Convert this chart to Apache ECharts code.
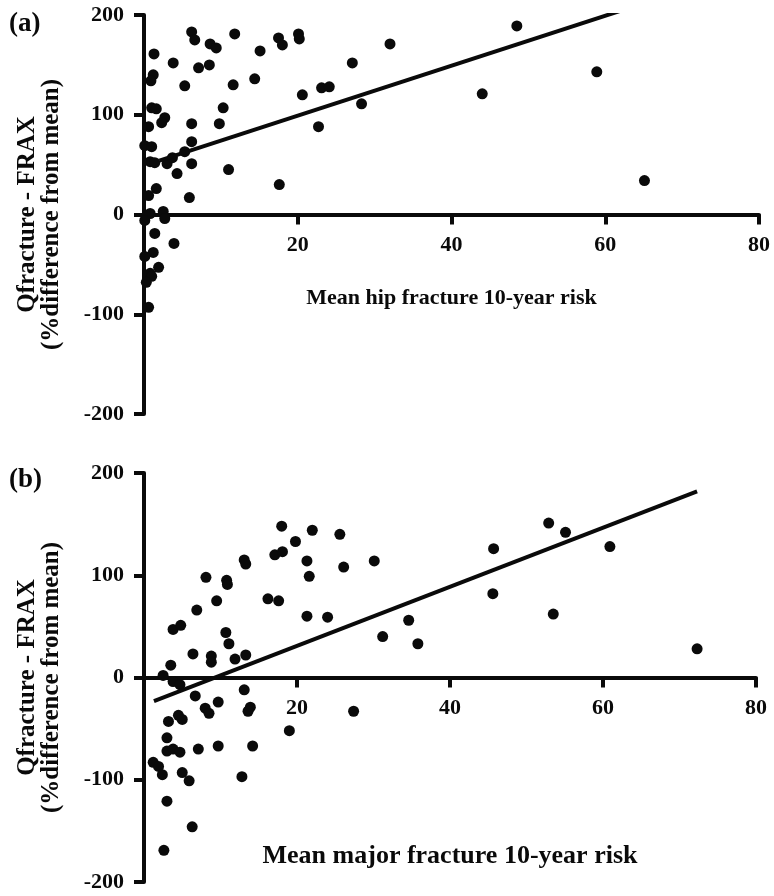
<!DOCTYPE html>
<html>
<head>
<meta charset="utf-8">
<script src="https://cdn.jsdelivr.net/npm/echarts@6/dist/echarts.min.js"></script>
<style>html,body{margin:0;padding:0;background:#fff}#c{width:774px;height:896px}</style>
</head>
<body>
<div id="c"></div>
<script>
// Panel (a): mean hip fracture 10-year risk vs % difference
const hipPoints = [
  [6.2,183],[6.6,175],[11.8,181],[8.6,171],[9.4,167],[15.1,164],[1.3,161],[3.8,152],[7.1,147],[8.5,150],
  [1.2,140],[0.9,134],[5.3,129],[11.6,130],[14.4,136],[1.0,107],[1.6,106],[10.3,107],[2.7,97],[2.3,92],
  [0.6,88],[6.2,91],[9.8,91],[0.1,69],[1.0,68],[6.2,73],[5.3,63],[0.8,53],[1.4,52],[3.0,51],
  [3.7,57],[6.2,51],[4.3,41],[11.0,45],[1.6,26],[0.6,19],[5.9,17],[0.8,1],[2.5,3],[2.7,-4],
  [0.1,-6],[1.4,-19],[3.9,-29],[1.2,-38],[0.1,-42],[1.9,-53],[0.8,-59],[1.0,-62],[0.3,-68],[0.6,-93],
  [17.5,177],[18.0,170],[20.1,181],[20.2,176],[32.0,171],[20.6,120],[23.1,127],[24.1,128],[27.1,152],[28.3,111],
  [22.7,88],[17.6,30],[48.5,189],[44.0,121],[58.9,143],[65.1,34]
];
const hipFit = [[2.0,54],[62.7,206]];

// Panel (b): mean major fracture 10-year risk vs % difference
const majorPoints = [
  [13.1,115],[13.3,111],[8.1,98],[10.8,95],[10.9,91],[9.5,75],[6.9,66],[3.8,47],[4.8,51],
  [10.7,44],[11.1,33],[6.4,23],[8.8,21],[8.8,15],[13.3,22],[11.9,18],[3.5,12],[2.5,2],[3.8,-4],
  [4.7,-7],[6.7,-18],[9.7,-24],[13.1,-12],[8.0,-30],[8.5,-35],[13.9,-29],[13.6,-33],[4.5,-37],[5.0,-41],
  [3.2,-43],[3.0,-59],[3.0,-72],[3.8,-70],[4.7,-73],[7.1,-70],[9.7,-67],[14.2,-67],[1.2,-83],[1.9,-87],
  [2.4,-95],[5.0,-93],[5.9,-101],[12.8,-97],[3.0,-121],[6.3,-146],[2.6,-169],
  [18.0,148],[22.0,144],[25.6,140],[19.8,133],[17.1,120],[18.1,123],[21.3,114],[30.1,114],[26.1,108],
  [21.6,99],[16.2,77],[17.6,75],[21.3,60],[24.0,59],[34.6,56],[31.2,40],[35.8,33],[27.4,-33],[19.0,-52],
  [45.7,126],[45.6,82],[52.9,151],[55.1,142],[60.9,128],[53.5,62],[72.3,28]
];
const majorFit = [[1.3,-23],[72.3,182]];

const panelLabels = ['(a)', '(b)'];
const xTitles = ['Mean hip fracture 10-year risk', 'Mean major fracture 10-year risk'];
const yTitle = 'Qfracture - FRAX\n(%difference from mean)';
const xRange = {min: 0, max: 80, interval: 20};
const yRange = {min: -200, max: 200, interval: 100};

const FONT = "'Liberation Serif', 'Times New Roman', serif";
const INK = '#0a0a0a';
const grids = [
  {left: 144, top: 15, width: 615, height: 399},
  {left: 144, top: 473, width: 612, height: 409}
];

function xAxisFor(i, nameSize, gap) {
  return {
    type: 'value', gridIndex: i, min: xRange.min, max: xRange.max, interval: xRange.interval,
    position: 'bottom',
    // place the axis at y = 0 (the middle of the symmetric y range)
    offset: -grids[i].height / 2,
    name: xTitles[i], nameLocation: 'middle', nameGap: gap,
    nameTextStyle: {fontFamily: FONT, fontWeight: 'bold', fontSize: nameSize, color: INK},
    axisLine: {show: true, onZero: false, lineStyle: {color: INK, width: 4}},
    axisTick: {show: true, length: 10, lineStyle: {color: INK, width: 4}},
    axisLabel: {showMinLabel: false, margin: 20, fontFamily: FONT, fontWeight: 'bold', fontSize: 22, color: INK},
    splitLine: {show: false}
  };
}
function yAxisFor(i, nameSize) {
  return {
    type: 'value', gridIndex: i, min: yRange.min, max: yRange.max, interval: yRange.interval,
    name: yTitle, nameLocation: 'middle', nameGap: 80, nameRotate: 90,
    nameTextStyle: {fontFamily: FONT, fontWeight: 'bold', fontSize: nameSize, lineHeight: 24, color: INK, align: 'center'},
    axisLine: {show: true, onZero: false, lineStyle: {color: INK, width: 4}},
    axisTick: {show: true, length: 10, lineStyle: {color: INK, width: 4}},
    axisLabel: {margin: 20, fontFamily: FONT, fontWeight: 'bold', fontSize: 22, color: INK},
    splitLine: {show: false}
  };
}

const chart = echarts.init(document.getElementById('c'), null, {renderer: 'canvas'});
chart.setOption({
  backgroundColor: '#fff',
  animation: false,
  title: [
    {text: panelLabels[0], left: 4, top: 6, textStyle: {fontFamily: FONT, fontWeight: 'bold', fontSize: 27, color: INK}},
    {text: panelLabels[1], left: 4, top: 462, textStyle: {fontFamily: FONT, fontWeight: 'bold', fontSize: 27, color: INK}}
  ],
  grid: grids.map(g => Object.assign({containLabel: false, outerBoundsMode: 'none'}, g)),
  xAxis: [xAxisFor(0, 22, 73), xAxisFor(1, 26, 166)],
  yAxis: [yAxisFor(0, 25), yAxisFor(1, 25)],
  series: [
    {type: 'scatter', xAxisIndex: 0, yAxisIndex: 0, data: hipPoints, symbolSize: 11, itemStyle: {color: INK, opacity: 1}},
    {type: 'line', xAxisIndex: 0, yAxisIndex: 0, data: hipFit, symbol: 'none', lineStyle: {color: INK, width: 4}},
    {type: 'scatter', xAxisIndex: 1, yAxisIndex: 1, data: majorPoints, symbolSize: 11, itemStyle: {color: INK, opacity: 1}},
    {type: 'line', xAxisIndex: 1, yAxisIndex: 1, data: majorFit, symbol: 'none', lineStyle: {color: INK, width: 4}}
  ]
});
</script>
</body>
</html>
